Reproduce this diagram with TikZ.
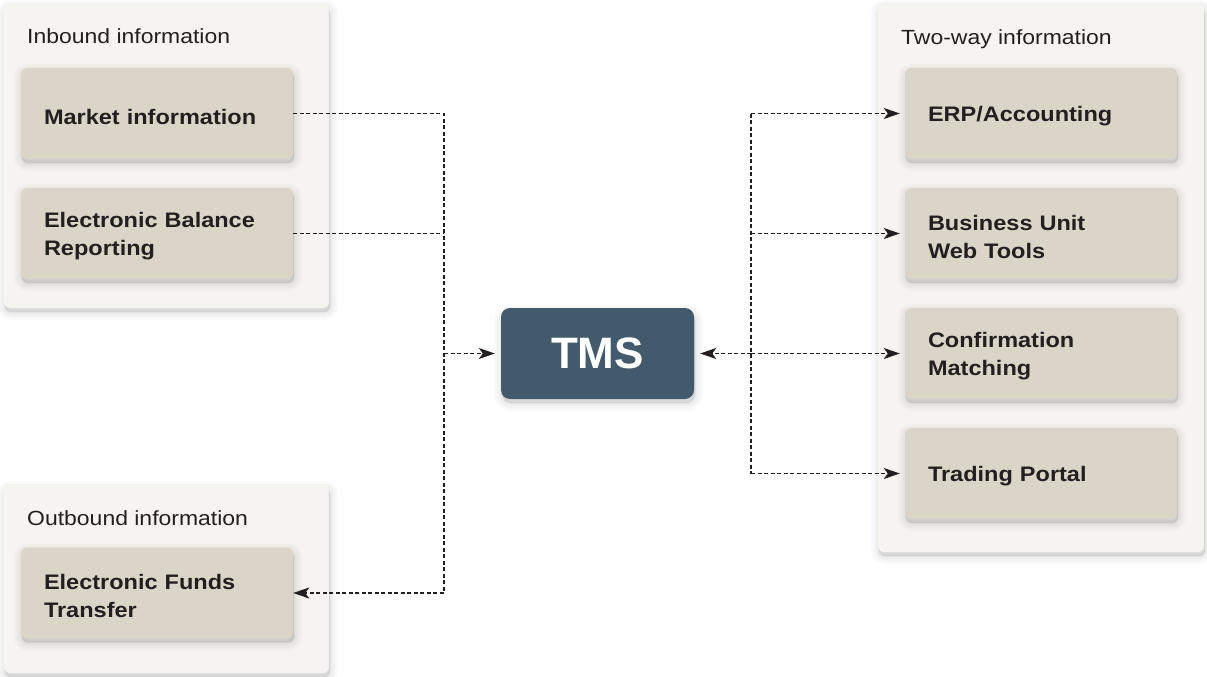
\documentclass[tikz,border=0pt]{standalone}
\usepackage{fontspec}
\setmainfont{Liberation Sans}[FakeStretch=1.12]
\newfontfamily\tmsfont{Liberation Sans}
\usetikzlibrary{arrows.meta,calc}
\definecolor{panelbg}{HTML}{F5F4F0}
\definecolor{boxbg}{HTML}{DBD5C8}
\definecolor{tmsbg}{HTML}{435A6D}
\definecolor{ink}{HTML}{231F20}
\tikzset{
  softshadow/.style={
    preaction={draw=black, draw opacity=0.02, line width=16pt, fill=black, fill opacity=0.02, transform canvas={xshift=1pt,yshift=-4pt}},
    preaction={draw=black, draw opacity=0.025, line width=11pt, fill=black, fill opacity=0.025, transform canvas={xshift=1pt,yshift=-4pt}},
    preaction={draw=black, draw opacity=0.025, line width=6pt, fill=black, fill opacity=0.025, transform canvas={xshift=1pt,yshift=-4pt}},
    preaction={draw=black, draw opacity=0.03, line width=2pt, fill=black, fill opacity=0.03, transform canvas={xshift=1pt,yshift=-4pt}}},
  panel/.style={fill=panelbg, rounded corners=6pt, draw=none, softshadow},
  itembox/.style={fill=boxbg, rounded corners=6pt, draw=none, minimum width=272pt, minimum height=91pt,
    inner sep=0pt, softshadow},
  itemtext/.style={text width=226pt, inner sep=0pt, align=left, text=ink,
    font=\fontsize{21}{28}\selectfont\bfseries},
  tmsbox/.style={fill=tmsbg, rounded corners=9pt, minimum width=193pt, minimum height=91pt,
    text=white, font=\tmsfont\fontsize{44}{48}\selectfont\bfseries, softshadow},
  ptitle/.style={anchor=base west, inner sep=0pt, text=ink, font=\fontsize{20.5}{24}\selectfont},
  dl/.style={draw=ink, line width=1.7pt, dash pattern=on 4pt off 2.5pt},
  arrowtip/.style={-{Stealth[length=16pt,width=11pt,inset=4pt]}}
}
\begin{document}
\begin{tikzpicture}[x=1pt,y=-1pt]
\useasboundingbox (0,0) rectangle (1207,677);
% panels
\path[panel] (4,4) rectangle (329,308);
\path[panel] (4,485) rectangle (329,673);
\path[panel] (878,4) rectangle (1204,552);
\node[ptitle] (tin) at (27,44) {Inbound information};
\node[ptitle] (tout) at (27,525) {Outbound information};
\node[ptitle] (ttwo) at (901,45) {Two-way information};
% items
\node[itembox] (mkt) at (157,113.5) {};
\node[itembox] (ebr) at (157,233.5) {};
\node[itembox] (eft) at (157,593) {};
\node[itembox] (erp) at (1041,113.5) {};
\node[itembox] (bu) at (1041,233.5) {};
\node[itembox] (cm) at (1041,353.5) {};
\node[itembox] (tp) at (1041,473.5) {};
\node[itemtext] (mktt) at ([yshift=-3pt]mkt.center) {Market information};
\node[itemtext] (ebrt) at ([yshift=-3pt]ebr.center) {Electronic Balance\\Reporting};
\node[itemtext] (eftt) at ([yshift=-3pt]eft.center) {Electronic Funds\\Transfer};
\node[itemtext] (erpt) at ([yshift=-3pt]erp.center) {ERP/Accounting};
\node[itemtext] (but) at ([yshift=-3pt]bu.center) {Business Unit\\Web Tools};
\node[itemtext] (cmt) at ([yshift=-3pt]cm.center) {Confirmation\\Matching};
\node[itemtext] (tpt) at ([yshift=-3pt]tp.center) {Trading Portal};
\node[tmsbox] (tms) at (597.5,353.5) {TMS};
% junctions
\coordinate (jl) at (444,353.5);
\coordinate (jlb) at (444,593);
\coordinate (jr) at (751,353.5);
% left connectors
\draw[dl, arrowtip] (mkt.east) -| (jlb) -- (eft.east);
\draw[dl] (ebr.east) -- (ebr.east -| jl);
\draw[dl, arrowtip, shorten >=6pt] (jl) -- (tms.west);
% right connectors
\draw[dl] (erp.west -| jr) -- (tp.west -| jr);
\draw[dl, arrowtip, shorten >=6pt] (jr) -- (tms.east);
\draw[dl, arrowtip, shorten >=5pt] (erp.west -| jr) -- (erp.west);
\draw[dl, arrowtip, shorten >=5pt] (bu.west -| jr) -- (bu.west);
\draw[dl, arrowtip, shorten >=5pt] (cm.west -| jr) -- (cm.west);
\draw[dl, arrowtip, shorten >=5pt] (tp.west -| jr) -- (tp.west);
\end{tikzpicture}
\end{document}
